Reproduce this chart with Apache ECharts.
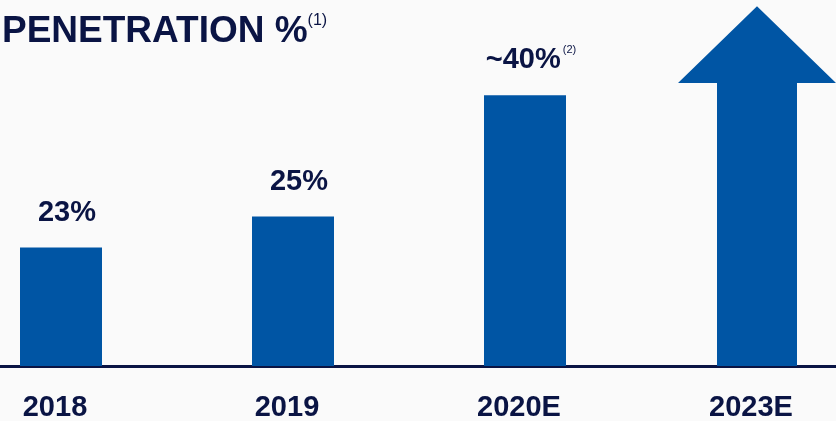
<!DOCTYPE html>
<html>
<head>
<meta charset="utf-8">
<script src="https://cdn.jsdelivr.net/npm/echarts@6/dist/echarts.min.js"></script>
<style>
  html, body { margin: 0; padding: 0; background: #fafafa; }
  #chart { width: 836px; height: 421px; }
</style>
</head>
<body>
<div id="chart"></div>
<script>
// categories and values
var years = ['2018', '2019', '2020E', '2023E']
// bar heights as drawn (the picture is not to scale), in % units of the 2018 bar
var barValues = [23, 29, 52.5, null]
var barLabels = ['23%', '25%', '~40%', '']
var barNotes = ['', '', '(2)', '']
// arrow for 2023E: tip and head base, same units
var arrowTip = 69.8
var arrowHeadBase = 54.9

var navy = '#0a1444'
var blue = '#0055a4'
var font = '"Liberation Sans", Arial, sans-serif'

var chart = echarts.init(document.getElementById('chart'), null, { renderer: 'canvas' })

var option = {
  backgroundColor: '#fafafa',
  animation: false,
  title: {
    left: -3,
    top: 8,
    text: '{t|PENETRATION %}{s|(1)}',
    textStyle: {
      rich: {
        t: { fontFamily: font, fontWeight: 'bold', fontSize: 37, color: navy },
        s: { fontFamily: font, fontWeight: 'normal', fontSize: 16, color: navy, padding: [0, 0, 22, 0] }
      }
    }
  },
  grid: { left: -55, top: 0, width: 928, bottom: 55, containLabel: false, outerBoundsMode: 'none' },
  xAxis: {
    type: 'category',
    data: years,
    axisTick: { show: false },
    axisLine: { lineStyle: { color: navy, width: 3 } },
    axisLabel: {
      margin: 27,
      fontFamily: font,
      fontWeight: 'bold',
      fontSize: 29,
      color: navy,
      padding: [0, 12, 0, 0]
    }
  },
  yAxis: {
    type: 'value',
    min: 0,
    max: 71,
    show: false,
    splitLine: { show: false }
  },
  series: [
    {
      type: 'bar',
      barWidth: 82,
      data: barValues,
      itemStyle: { color: blue },
      label: {
        show: true,
        position: 'top',
        distance: 20,
        offset: [6, 0],
        formatter: function (p) {
          var s = '{v|' + barLabels[p.dataIndex] + '}'
          if (barNotes[p.dataIndex]) s += '{s|' + barNotes[p.dataIndex] + '}'
          return s
        },
        rich: {
          v: { fontFamily: font, fontWeight: 'bold', fontSize: 29, color: navy },
          s: { fontFamily: font, fontWeight: 'normal', fontSize: 11, color: navy, padding: [0, 0, 20, 2] }
        }
      }
    },
    {
      type: 'custom',
      data: [[3, arrowTip, arrowHeadBase]],
      renderItem: function (params, api) {
        var base = api.coord([api.value(0), 0])
        var tip = api.coord([api.value(0), api.value(1)])
        var head = api.coord([api.value(0), api.value(2)])
        var sw = 40
        var hw = 79
        var x = base[0]
        return {
          type: 'polygon',
          shape: {
            points: [
              [x - sw, base[1]],
              [x - sw, head[1]],
              [x - hw, head[1]],
              [x, tip[1]],
              [x + hw, head[1]],
              [x + sw, head[1]],
              [x + sw, base[1]]
            ]
          },
          style: { fill: blue }
        }
      }
    }
  ]
}

chart.setOption(option)
</script>
</body>
</html>
